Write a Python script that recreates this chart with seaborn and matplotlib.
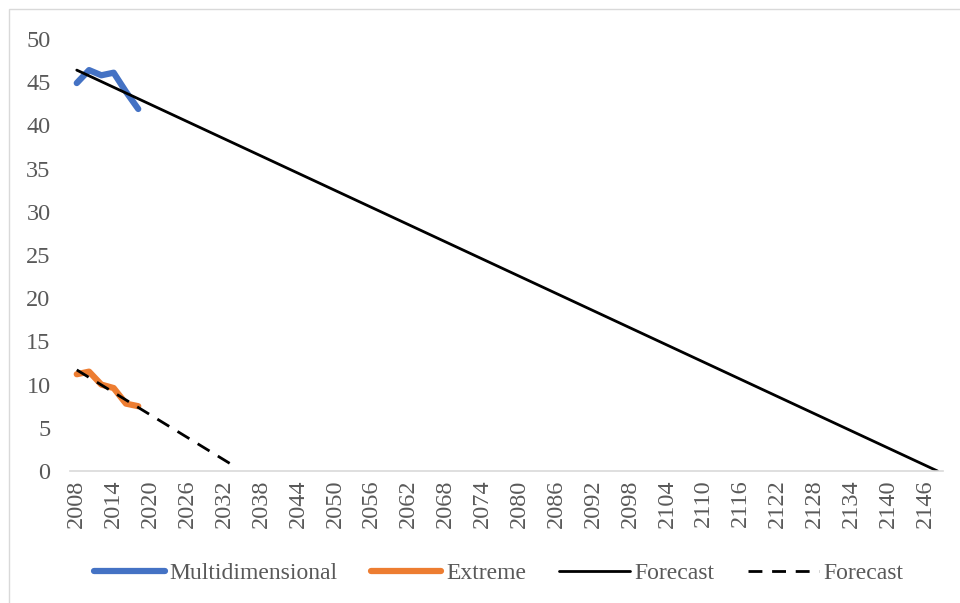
import matplotlib
matplotlib.use("Agg")
import matplotlib.pyplot as plt
import seaborn as sns
import pandas as pd
from matplotlib.patches import Rectangle

# ---- data ----
years = [2008, 2010, 2012, 2014, 2016, 2018]
multidimensional = [44.9, 46.4, 45.8, 46.1, 43.9, 41.9]
extreme = [11.2, 11.5, 10.0, 9.6, 7.8, 7.5]
forecast_multi_years = [2008, 2148]
forecast_multi_values = [46.4, 0.0]
forecast_ext_years = [2008, 2034]
forecast_ext_values = [11.7, 0.4]
tick_years = list(range(2008, 2147, 6))
y_ticks = [0, 5, 10, 15, 20, 25, 30, 35, 40, 45, 50]

sns.set_theme(style="white")
plt.rcParams['font.family'] = ['Liberation Serif', 'DejaVu Serif']

W, H = 960, 603
fig = plt.figure(figsize=(W / 100, H / 100), dpi=100)
ax = fig.add_axes([70 / W, 1 - 471 / H, (943 - 70) / W, (471 - 39) / H])

# chart border (Excel chart area)
fig.patches.append(Rectangle((9 / W, -0.05), 1.1, 1 - 9 / H + 0.05, transform=fig.transFigure,
                             fill=False, edgecolor='#d9d9d9', linewidth=1.0))

df_m = pd.DataFrame({'year': years, 'value': multidimensional})
df_e = pd.DataFrame({'year': years, 'value': extreme})
df_fm = pd.DataFrame({'year': forecast_multi_years, 'value': forecast_multi_values})
df_fe = pd.DataFrame({'year': forecast_ext_years, 'value': forecast_ext_values})

sns.lineplot(data=df_m, x='year', y='value', ax=ax, color='#4472c4', linewidth=4.5,
             label='Multidimensional', solid_capstyle='round', solid_joinstyle='round')
sns.lineplot(data=df_e, x='year', y='value', ax=ax, color='#ed7d31', linewidth=4.5,
             label='Extreme', solid_capstyle='round', solid_joinstyle='round')
sns.lineplot(data=df_fm, x='year', y='value', ax=ax, color='black', linewidth=2.0,
             label='Forecast')
sns.lineplot(data=df_fe, x='year', y='value', ax=ax, color='black', linewidth=2.0,
             linestyle=(0, (5, 3.5)), label='Forecast')

ax.set_xlim(2006.9, 2148.9)
ax.set_ylim(0, 50)
ax.set_xticks(tick_years)
ax.set_xticklabels([str(y) for y in tick_years], rotation=90)
ax.set_yticks(y_ticks)
ax.set_xlabel('')
ax.set_ylabel('')

for s in ['top', 'right', 'left']:
    ax.spines[s].set_visible(False)
ax.spines['bottom'].set_color('#d9d9d9')
ax.spines['bottom'].set_linewidth(1.2)
ax.tick_params(axis='both', which='both', length=0, labelsize=17.5, colors='#595959')
ax.tick_params(axis='y', pad=14)
ax.tick_params(axis='x', pad=6)
ax.grid(False)

leg = ax.legend(loc='upper center', bbox_to_anchor=(0.491, -0.19), ncol=4, frameon=False,
                fontsize=17, handlelength=3.0, columnspacing=1.4, handletextpad=0.2,
                borderaxespad=0)
for t in leg.get_texts():
    t.set_color('#595959')

fig.savefig('out.png', dpi=100)
